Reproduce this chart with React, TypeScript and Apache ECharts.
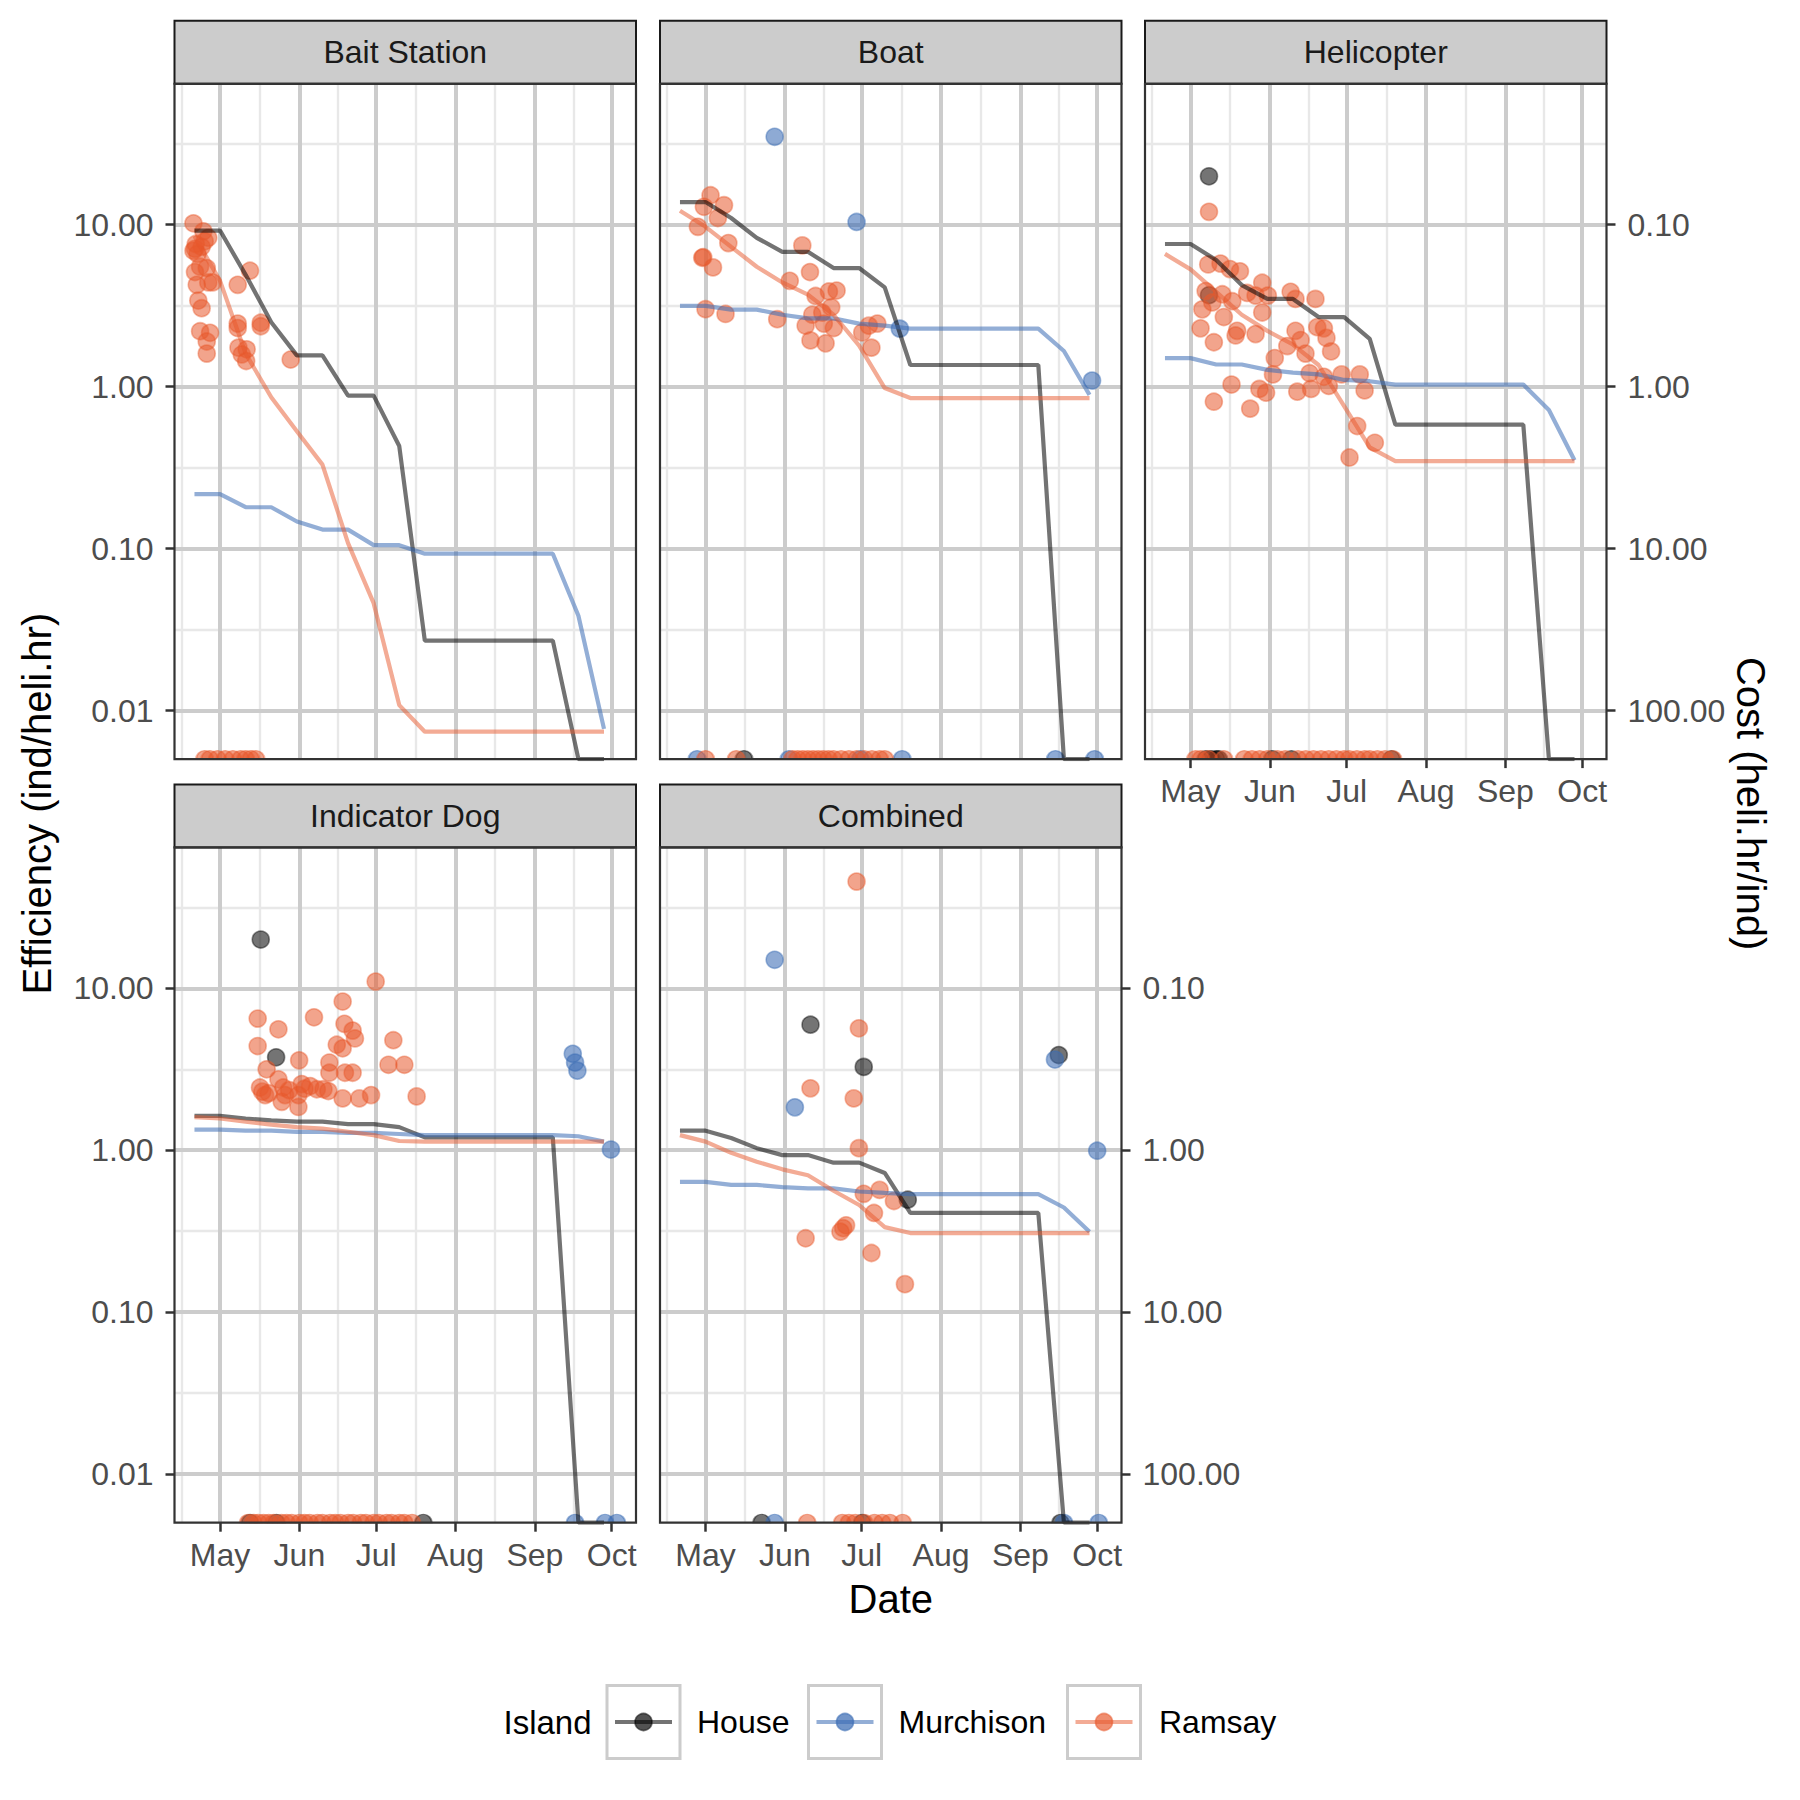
import React, { useEffect, useRef } from 'react';
import * as echarts from 'echarts';

const FONT = '"Liberation Sans", Arial, Helvetica, sans-serif';

// ---------- categories / ticks ----------
const panelNames = ['Bait Station', 'Boat', 'Helicopter', 'Indicator Dog', 'Combined'];
const islands = ['House', 'Murchison', 'Ramsay'];
// days counted from 1 May
const monthStarts = [0, 31, 61, 92, 123, 153];
const monthLabels = ['May', 'Jun', 'Jul', 'Aug', 'Sep', 'Oct'];
const minorDays = [-15, 15.5, 46, 76.5, 107.5, 138];
const effTicks = [0.01, 0.1, 1, 10];
const lineDays = [-10, 0, 10, 20, 30, 40, 50, 60, 70, 80, 90, 100, 110, 120, 130, 140, 150];

// ---------- Bait Station ----------
const baitHouseLine = [9.2, 9.2, 4.9, 2.5, 1.56, 1.56, 0.88, 0.88, 0.43, 0.027, 0.027, 0.027, 0.027, 0.027, 0.027, 0, 0];
const baitMurchisonLine = [0.217, 0.217, 0.18, 0.18, 0.147, 0.131, 0.131, 0.105, 0.105, 0.093, 0.093, 0.093, 0.093, 0.093, 0.093, 0.0385, 0.0077];
const baitRamsayLine = [8.5, 4.5, 1.6, 0.86, 0.53, 0.33, 0.108, 0.046, 0.0108, 0.0074, 0.0074, 0.0074, 0.0074, 0.0074, 0.0074, 0.0074, 0.0074];
const baitHousePts: number[][] = [];
const baitMurchisonPts: number[][] = [];
const baitRamsayPts = [[-10.4, 10.2], [-6.5, 9.1], [-9.8, 7.1], [-7.2, 7.3], [-4.6, 8.3], [-10.4, 6.9], [-7.8, 5.5], [-9.8, 5.1], [-5.2, 5.4], [-4.6, 4.4], [-9.1, 4.25], [-2.9, 4.4], [-8.5, 3.4], [-7.2, 3.05], [11.7, 5.2], [6.9, 4.25], [-7.8, 2.2], [-3.9, 2.15], [-5.2, 1.9], [-5.2, 1.6], [6.9, 2.45], [6.9, 2.3], [15.9, 2.48], [15.9, 2.36], [7.2, 1.74], [10.4, 1.7], [8.5, 1.58], [10.2, 1.44], [27.6, 1.47], [-8.8, 6.6], [-6.0, 7.9], [-9.5, 7.6]];
const baitHouseZeros: number[] = [];
const baitMurchisonZeros: number[] = [];
const baitRamsayZeros = [-6, -4, -1, 2, 5, 8, 10, 12, 14];

// ---------- Boat ----------
const boatHouseLine = [13.8, 13.8, 11.0, 8.3, 6.8, 6.8, 5.4, 5.4, 4.1, 1.36, 1.36, 1.36, 1.36, 1.36, 1.36, 0, 0];
const boatMurchisonLine = [3.15, 3.15, 2.99, 2.99, 2.78, 2.64, 2.64, 2.45, 2.38, 2.28, 2.28, 2.28, 2.28, 2.28, 2.28, 1.66, 0.89];
const boatRamsayLine = [12.2, 9.7, 7.3, 5.5, 4.4, 3.7, 2.78, 1.79, 0.98, 0.85, 0.85, 0.85, 0.85, 0.85, 0.85, 0.85, 0.85];
const boatHousePts: number[][] = [];
const boatMurchisonPts = [[27.0, 34.9], [59.0, 10.4], [75.9, 2.28], [151, 1.09]];
const boatRamsayPts = [[1.95, 15.2], [7.2, 13.2], [-0.65, 12.9], [4.8, 11.0], [-3.0, 9.7], [8.9, 7.7], [-1.3, 6.25], [-0.9, 6.3], [2.9, 5.45], [37.8, 7.45], [40.8, 5.1], [32.9, 4.5], [43.0, 3.63], [48.2, 3.87], [51.2, 3.92], [49.1, 3.09], [41.7, 2.78], [45.6, 2.86], [46.2, 2.45], [39.1, 2.38], [50.1, 2.3], [28.0, 2.61], [0, 3.01], [7.8, 2.81], [41.0, 1.93], [46.9, 1.85], [61.2, 2.16], [63.8, 2.38], [67.1, 2.45], [64.8, 1.74]];
const boatHouseZeros = [15];
const boatMurchisonZeros = [-3.3, 32.6, 60.5, 76.8, 136.7, 152];
const boatRamsayZeros = [0, 12, 34, 36, 38, 40, 42, 44, 46, 48, 50, 53, 56, 59, 62, 65, 68, 70];

// ---------- Helicopter ----------
const heliHouseLine = [7.6, 7.6, 6.05, 4.24, 3.48, 3.48, 2.69, 2.69, 1.97, 0.583, 0.583, 0.583, 0.583, 0.583, 0.583, 0, 0];
const heliMurchisonLine = [1.5, 1.5, 1.37, 1.37, 1.27, 1.22, 1.19, 1.1, 1.08, 1.03, 1.03, 1.03, 1.03, 1.03, 1.03, 0.718, 0.351];
const heliRamsayLine = [6.6, 5.3, 3.85, 2.78, 2.21, 1.82, 1.36, 0.757, 0.421, 0.347, 0.347, 0.347, 0.347, 0.347, 0.347, 0.347, 0.347];
const heliHousePts = [[7.2, 19.9], [7.2, 3.67]];
const heliMurchisonPts: number[][] = [];
const heliRamsayPts = [[7.2, 12.0], [6.9, 5.68], [11.7, 5.75], [15.4, 5.32], [19.3, 5.15], [28.0, 4.38], [39.1, 3.85], [41.0, 3.48], [48.8, 3.48], [5.9, 3.89], [12.4, 3.72], [8.5, 3.31], [4.6, 3.0], [16.3, 3.37], [22.1, 3.79], [25.4, 3.65], [30.2, 3.65], [28.0, 2.87], [13.0, 2.69], [3.9, 2.29], [9.1, 1.88], [17.6, 2.07], [18.2, 2.21], [25.4, 2.11], [41.0, 2.21], [43.0, 1.94], [49.5, 2.33], [52.1, 2.29], [53.1, 2.0], [37.8, 1.78], [44.9, 1.6], [54.9, 1.65], [32.9, 1.5], [32.2, 1.19], [46.5, 1.21], [52.1, 1.15], [59.0, 1.19], [66.1, 1.19], [16.0, 1.03], [9.1, 0.807], [23.3, 0.731], [26.9, 0.968], [29.5, 0.918], [41.7, 0.931], [47.1, 0.968], [54.0, 1.01], [68.0, 0.948], [65.1, 0.571], [72.0, 0.45], [62.1, 0.365]];
const heliHouseZeros = [6, 8, 10, 11, 32, 39.4, 78.5];
const heliMurchisonZeros: number[] = [];
const heliRamsayZeros = [2, 4, 7, 13, 21, 24, 27, 30, 34, 37, 42, 45, 48, 51, 54, 57, 60, 62, 65, 68, 70, 73, 76, 79];

// ---------- Indicator Dog ----------
const dogHouseLine = [1.63, 1.63, 1.57, 1.53, 1.5, 1.5, 1.45, 1.45, 1.39, 1.2, 1.2, 1.2, 1.2, 1.2, 1.2, 0, 0];
const dogMurchisonLine = [1.34, 1.34, 1.32, 1.32, 1.3, 1.3, 1.28, 1.28, 1.26, 1.24, 1.24, 1.24, 1.24, 1.24, 1.24, 1.22, 1.13];
const dogRamsayLine = [1.6, 1.57, 1.5, 1.44, 1.39, 1.36, 1.3, 1.24, 1.14, 1.13, 1.13, 1.13, 1.13, 1.13, 1.13, 1.13, 1.13];
const dogHousePts = [[15.9, 20.0], [21.9, 3.75]];
const dogMurchisonPts = [[137.8, 3.94], [138.7, 3.48], [139.6, 3.1], [152.7, 1.01]];
const dogRamsayPts = [[60.8, 11.0], [47.9, 8.28], [14.7, 6.5], [36.7, 6.62], [22.8, 5.58], [48.6, 6.03], [51.8, 5.48], [52.7, 4.9], [67.7, 4.78], [14.7, 4.4], [45.6, 4.48], [47.9, 4.26], [18.2, 3.16], [30.9, 3.59], [42.7, 3.48], [42.7, 3.01], [48.8, 3.01], [51.8, 3.01], [65.8, 3.37], [72.0, 3.37], [22.8, 2.74], [15.6, 2.44], [17.6, 2.19], [24.7, 2.44], [25.4, 2.19], [31.9, 2.56], [35.2, 2.49], [37.8, 2.38], [40.4, 2.38], [42.3, 2.32], [30.6, 2.19], [24.1, 1.99], [30.6, 1.85], [47.9, 2.09], [54.4, 2.09], [59.0, 2.19], [76.8, 2.15], [16.5, 2.3], [19.0, 2.25], [27.0, 2.35], [33.0, 2.4]];
const dogHouseZeros = [11.7, 22, 79.4];
const dogMurchisonZeros = [138.7, 150.4, 155];
const dogRamsayZeros = [11, 13, 15, 17, 19, 21, 24, 26, 28, 31, 33, 35, 38, 40, 43, 45, 47, 50, 52, 55, 57, 60, 62, 65, 67, 70, 72, 75];

// ---------- Combined ----------
const combHouseLine = [1.32, 1.32, 1.19, 1.03, 0.933, 0.933, 0.838, 0.838, 0.724, 0.41, 0.41, 0.41, 0.41, 0.41, 0.41, 0, 0];
const combMurchisonLine = [0.638, 0.638, 0.611, 0.611, 0.592, 0.581, 0.581, 0.556, 0.545, 0.535, 0.535, 0.535, 0.535, 0.535, 0.535, 0.443, 0.314];
const combRamsayLine = [1.24, 1.13, 0.964, 0.849, 0.762, 0.701, 0.562, 0.459, 0.335, 0.308, 0.308, 0.308, 0.308, 0.308, 0.308, 0.308, 0.308];
const combHousePts = [[41.0, 5.96], [61.8, 3.27], [138, 3.87], [79.0, 0.495]];
const combMurchisonPts = [[27.0, 15.0], [34.9, 1.84], [136.5, 3.63], [153, 0.993]];
const combRamsayPts = [[59.0, 45.6], [59.9, 5.66], [41.0, 2.41], [57.9, 2.09], [59.9, 1.03], [61.8, 0.538], [68.0, 0.569], [73.6, 0.486], [65.8, 0.41], [54.9, 0.344], [53.8, 0.33], [52.7, 0.314], [39.1, 0.286], [64.8, 0.232], [77.9, 0.149]];
const combHouseZeros = [21.9, 61.2, 138.7];
const combMurchisonZeros = [27, 140, 153.6];
const combRamsayZeros = [39.7, 53.4, 56, 58.5, 62, 66, 69, 72, 77];

const panels = [
  { lines: [baitHouseLine, baitMurchisonLine, baitRamsayLine], pts: [baitHousePts, baitMurchisonPts, baitRamsayPts], zeros: [baitHouseZeros, baitMurchisonZeros, baitRamsayZeros] },
  { lines: [boatHouseLine, boatMurchisonLine, boatRamsayLine], pts: [boatHousePts, boatMurchisonPts, boatRamsayPts], zeros: [boatHouseZeros, boatMurchisonZeros, boatRamsayZeros] },
  { lines: [heliHouseLine, heliMurchisonLine, heliRamsayLine], pts: [heliHousePts, heliMurchisonPts, heliRamsayPts], zeros: [heliHouseZeros, heliMurchisonZeros, heliRamsayZeros] },
  { lines: [dogHouseLine, dogMurchisonLine, dogRamsayLine], pts: [dogHousePts, dogMurchisonPts, dogRamsayPts], zeros: [dogHouseZeros, dogMurchisonZeros, dogRamsayZeros] },
  { lines: [combHouseLine, combMurchisonLine, combRamsayLine], pts: [combHousePts, combMurchisonPts, combRamsayPts], zeros: [combHouseZeros, combMurchisonZeros, combRamsayZeros] },
];

// ---------- styling / layout ----------
const pointFill = ['rgba(0,0,0,0.68)', 'rgba(59,108,180,0.72)', 'rgba(232,88,44,0.68)'];
const pointStroke = ['rgba(0,0,0,0.55)', 'rgba(59,108,180,0.6)', 'rgba(232,88,44,0.55)'];
const lineColors = ['rgba(0,0,0,0.55)', 'rgba(59,108,180,0.55)', 'rgba(232,88,44,0.5)'];
const layouts = [
  { left: 174.5, top: 83.8 }, { left: 660, top: 83.8 }, { left: 1145, top: 83.8 },
  { left: 174.5, top: 847.4 }, { left: 660, top: 847.4 },
];
const PW = 461.5;
const PH = 675.3;
const STRIP = 63;
const showX = [false, false, true, true, true];
const showYLeft = [true, false, false, true, false];
const showYRight = [false, false, true, false, true];
const X_MIN = -17.8;
const X_MAX = 162.5;
const Y_MIN = -2.3;
const Y_MAX = 1.87;
const HALF = 'path://M0,10C0,4.48 4.48,0 10,0C15.52,0 20,4.48 20,10Z';

function buildOption() {
  const grid: any[] = [];
  const xAxis: any[] = [];
  const yAxis: any[] = [];
  const series: any[] = [];
  const graphic: any[] = [];
  const majorLogs = effTicks.map((v) => Math.log10(v));
  const minorLogs = effTicks.map((v) => Math.log10(v) + 0.5);
  const toY = (v: number) => (v > 0 ? Math.log10(v) : Y_MIN);
  const tickStyle = { color: '#333333', width: 2.5 };
  const labelBase = { fontSize: 32, color: '#4D4D4D', fontFamily: FONT };
  const majorGrid = { color: '#CCCCCC', width: 4 };
  const minorGrid = { color: '#E8E8E8', width: 2.4 };

  panels.forEach((p, i) => {
    const L = layouts[i];
    grid.push({ left: L.left, top: L.top, width: PW, height: PH, show: false, outerBoundsMode: 'none', containLabel: false });

    xAxis.push({
      type: 'value', gridIndex: i, min: X_MIN, max: X_MAX, z: 0, position: 'bottom',
      axisLine: { show: false, onZero: false },
      axisTick: { show: false, customValues: minorDays },
      axisLabel: { show: false, customValues: minorDays },
      splitLine: { show: true, lineStyle: minorGrid },
    });
    const xIdx = xAxis.length;
    xAxis.push({
      type: 'value', gridIndex: i, min: X_MIN, max: X_MAX, z: 1, position: 'bottom',
      axisLine: { show: false, onZero: false },
      axisTick: { show: showX[i], customValues: monthStarts, length: 9, lineStyle: tickStyle },
      axisLabel: {
        show: showX[i], customValues: monthStarts, margin: 16, ...labelBase,
        formatter: (v: number) => { const k = monthStarts.indexOf(Math.round(v)); return k >= 0 ? monthLabels[k] : ''; },
      },
      splitLine: { show: true, lineStyle: majorGrid },
    });

    yAxis.push({
      type: 'value', gridIndex: i, min: Y_MIN, max: Y_MAX, z: 0, position: 'left',
      axisLine: { show: false, onZero: false },
      axisTick: { show: false, customValues: minorLogs },
      axisLabel: { show: false, customValues: minorLogs },
      splitLine: { show: true, lineStyle: minorGrid },
    });
    const yIdx = yAxis.length;
    yAxis.push({
      type: 'value', gridIndex: i, min: Y_MIN, max: Y_MAX, z: 1, position: 'left',
      axisLine: { show: false, onZero: false },
      axisTick: { show: showYLeft[i], customValues: majorLogs, length: 9, lineStyle: tickStyle },
      axisLabel: {
        show: showYLeft[i], customValues: majorLogs, margin: 21, ...labelBase,
        formatter: (v: number) => Math.pow(10, v).toFixed(2),
      },
      splitLine: { show: true, lineStyle: majorGrid },
    });
    if (showYRight[i]) {
      yAxis.push({
        type: 'value', gridIndex: i, min: Y_MIN, max: Y_MAX, z: 1, position: 'right',
        axisLine: { show: false, onZero: false },
        axisTick: { show: true, customValues: majorLogs, length: 9, lineStyle: tickStyle },
        axisLabel: {
          show: true, customValues: majorLogs, margin: 21, ...labelBase,
          formatter: (v: number) => Math.pow(10, -v).toFixed(2),
        },
        splitLine: { show: false },
      });
    }

    for (let j = 0; j < 3; j++) {
      const style = { color: pointFill[j], borderColor: pointStroke[j], borderWidth: 1.6 };
      if (p.pts[j].length) {
        series.push({
          type: 'scatter', name: islands[j], xAxisIndex: xIdx, yAxisIndex: yIdx, z: 2, silent: true,
          symbol: 'circle', symbolSize: 17, itemStyle: style, clip: false,
          data: p.pts[j].map((d) => [d[0], toY(d[1])]),
        });
      }
      if (p.zeros[j].length) {
        series.push({
          type: 'scatter', name: islands[j], xAxisIndex: xIdx, yAxisIndex: yIdx, z: 2, silent: true,
          symbol: HALF, symbolSize: [17, 8.5], symbolOffset: [0, '-50%'], itemStyle: style, clip: false,
          data: p.zeros[j].map((d) => [d, Y_MIN]),
        });
      }
    }
    for (let j = 0; j < 3; j++) {
      series.push({
        type: 'line', name: islands[j], xAxisIndex: xIdx, yAxisIndex: yIdx, z: 3, silent: true,
        showSymbol: false, symbol: 'none',
        lineStyle: { color: lineColors[j], width: 4.2 },
        data: lineDays.map((d, k) => [d, toY(p.lines[j][k])]),
      });
    }

    graphic.push({
      type: 'rect', z: 100,
      shape: { x: L.left, y: L.top - STRIP, width: PW, height: STRIP },
      style: { fill: '#CCCCCC', stroke: '#1A1A1A', lineWidth: 2 },
    });
    graphic.push({
      type: 'text', z: 101, x: L.left + PW / 2, y: L.top - STRIP / 2,
      style: { text: panelNames[i], fontSize: 32, fontFamily: FONT, fill: '#1A1A1A', align: 'center', verticalAlign: 'middle', textAlign: 'center', textVerticalAlign: 'middle' },
    });
    graphic.push({
      type: 'rect', z: 100,
      shape: { x: L.left, y: L.top, width: PW, height: PH },
      style: { fill: 'none', stroke: '#333333', lineWidth: 2.2 },
    });
  });

  const txt = (text: string, x: number, y: number, size: number, align: string, rotation = 0) => ({
    type: 'text', z: 101, x, y, rotation,
    style: { text, fontSize: size, fontFamily: FONT, fill: '#000000', align, verticalAlign: 'middle', textAlign: align, textVerticalAlign: 'middle' },
  });
  graphic.push(txt('Efficiency (ind/heli.hr)', 36.7, 803.6, 40, 'center', Math.PI / 2));
  graphic.push(txt('Cost (heli.hr/ind)', 1750.7, 803.6, 40, 'center', -Math.PI / 2));
  graphic.push(txt('Date', 890.8, 1599, 40, 'center'));

  // legend
  const legY = 1722;
  graphic.push(txt('Island', 503.5, legY, 33, 'left'));
  const boxX = [607, 808.5, 1067.5];
  const textX = [697, 898.5, 1159];
  islands.forEach((name, j) => {
    const bx = boxX[j];
    graphic.push({ type: 'rect', z: 100, shape: { x: bx, y: legY - 36.5, width: 73, height: 73 }, style: { fill: '#FFFFFF', stroke: '#CCCCCC', lineWidth: 3 } });
    graphic.push({ type: 'line', z: 101, shape: { x1: bx + 8, y1: legY, x2: bx + 65, y2: legY }, style: { stroke: lineColors[j], lineWidth: 4.2 } });
    graphic.push({ type: 'circle', z: 102, shape: { cx: bx + 36.5, cy: legY, r: 8.5 }, style: { fill: pointFill[j], stroke: pointStroke[j], lineWidth: 1.6 } });
    graphic.push(txt(name, textX[j], legY, 32, 'left'));
  });

  return {
    animation: false,
    backgroundColor: '#FFFFFF',
    textStyle: { fontFamily: FONT },
    grid, xAxis, yAxis, series,
    graphic,
  };
}

export default function App() {
  const ref = useRef<HTMLDivElement>(null);
  useEffect(() => {
    if (!ref.current) return;
    const chart = echarts.init(ref.current, null, { renderer: 'svg' });
    chart.setOption(buildOption() as any);
    return () => chart.dispose();
  }, []);
  return (
    <div
      ref={ref}
      style={{ position: 'absolute', left: 0, top: 0, width: 1800, height: 1800, background: '#FFFFFF' }}
    />
  );
}
